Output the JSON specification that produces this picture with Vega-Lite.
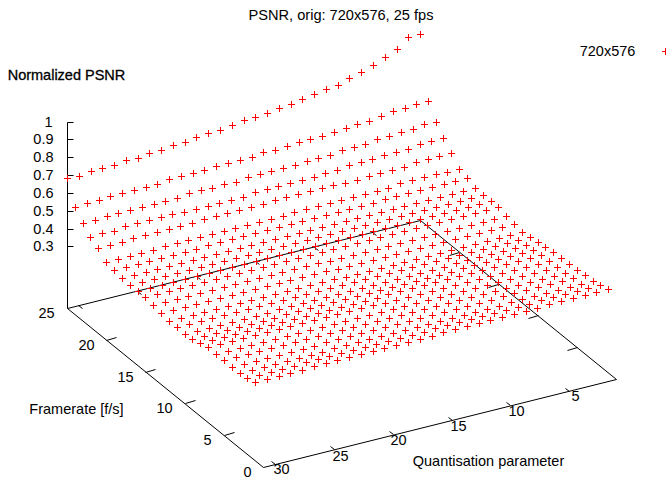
{"$schema":"https://vega.github.io/schema/vega-lite/v6.json","width":666,"height":479,"padding":0,"autosize":{"type":"none"},"background":"white","view":{"stroke":null},
"title":{"text":"PSNR, orig: 720x576, 25 fps","anchor":"middle","offset":-23,"dx":8,"font":"Liberation Sans","fontSize":14.6,"fontWeight":"normal","color":"black"},
"datasets":{
"lines":[{"part":"vertical","x":67,"y":122,"x2":67,"y2":308},{"part":"base","x":67,"y":308,"x2":263,"y2":467},{"part":"base","x":263,"y":467,"x2":616,"y2":379},{"part":"base","x":616,"y":379,"x2":420,"y2":220},{"part":"base","x":420,"y":220,"x2":67,"y2":308},
{"part":"ztick","x":67,"y":122,"x2":73,"y2":122},{"part":"ztick","x":67,"y":139,"x2":73,"y2":139},{"part":"ztick","x":67,"y":157,"x2":73,"y2":157},{"part":"ztick","x":67,"y":175,"x2":73,"y2":175},{"part":"ztick","x":67,"y":193,"x2":73,"y2":193},{"part":"ztick","x":67,"y":211,"x2":73,"y2":211},{"part":"ztick","x":67,"y":229,"x2":73,"y2":229},{"part":"ztick","x":67,"y":246,"x2":73,"y2":246},
{"part":"qtick","x":275,"y":464,"x2":271,"y2":461},{"part":"qtick","x":334,"y":449,"x2":330,"y2":446},{"part":"qtick","x":393,"y":434,"x2":389,"y2":431},{"part":"qtick","x":452,"y":420,"x2":448,"y2":417},{"part":"qtick","x":510,"y":405,"x2":506,"y2":402},{"part":"qtick","x":569,"y":391,"x2":565,"y2":388},
{"part":"qtick","x":78,"y":305,"x2":82,"y2":308},{"part":"qtick","x":137,"y":291,"x2":141,"y2":294},{"part":"qtick","x":196,"y":276,"x2":200,"y2":279},{"part":"qtick","x":255,"y":261,"x2":259,"y2":264},{"part":"qtick","x":314,"y":247,"x2":318,"y2":250},{"part":"qtick","x":372,"y":232,"x2":376,"y2":235},
{"part":"ftick","x":224,"y":435,"x2":234,"y2":432},{"part":"ftick","x":185,"y":403,"x2":195,"y2":400},{"part":"ftick","x":145,"y":372,"x2":155,"y2":369},{"part":"ftick","x":106,"y":340,"x2":116,"y2":337},
{"part":"ftick","x":577,"y":347,"x2":567,"y2":350},{"part":"ftick","x":538,"y":315,"x2":528,"y2":318},{"part":"ftick","x":498,"y":284,"x2":488,"y2":287},{"part":"ftick","x":459,"y":252,"x2":449,"y2":255}],
"zlabels":[{"label":"1","x":52,"y":122},{"label":"0.9","x":53,"y":139},{"label":"0.8","x":53,"y":157},{"label":"0.7","x":53,"y":175},{"label":"0.6","x":53,"y":193},{"label":"0.5","x":53,"y":211},{"label":"0.4","x":53,"y":229},{"label":"0.3","x":53,"y":246}],
"labels":[{"label":"30","x":281,"y":469},{"label":"25","x":340,"y":456},{"label":"20","x":398,"y":440},{"label":"15","x":458,"y":426},{"label":"10","x":516,"y":411},{"label":"5","x":575,"y":396},
{"label":"25","x":46,"y":313},{"label":"20","x":86,"y":345},{"label":"15","x":125,"y":377},{"label":"10","x":164,"y":408},{"label":"5","x":207,"y":440},{"label":"0","x":247,"y":472},
{"label":"Quantisation parameter","x":488,"y":461},{"label":"Framerate [f/s]","x":76,"y":409},{"label":"720x576","x":607,"y":51}],
"heading":[{"label":"Normalized PSNR","x":66,"y":75}],
"key":[{"series":"720x576","x":665,"y":51}],
"surface":[
{"q":31,"f":25,"x":67,"y":178},{"q":30,"f":25,"x":79,"y":176},{"q":29,"f":25,"x":91,"y":171},{"q":28,"f":25,"x":102,"y":168},{"q":27,"f":25,"x":114,"y":165},{"q":26,"f":25,"x":126,"y":160},{"q":25,"f":25,"x":138,"y":158},{"q":24,"f":25,"x":149,"y":153},{"q":23,"f":25,"x":161,"y":150},{"q":22,"f":25,"x":173,"y":145},{"q":21,"f":25,"x":185,"y":142},{"q":20,"f":25,"x":196,"y":137},{"q":19,"f":25,"x":208,"y":133},{"q":18,"f":25,"x":220,"y":130},{"q":17,"f":25,"x":232,"y":125},{"q":16,"f":25,"x":244,"y":120},{"q":15,"f":25,"x":255,"y":117},{"q":14,"f":25,"x":267,"y":113},{"q":13,"f":25,"x":279,"y":108},{"q":12,"f":25,"x":291,"y":104},{"q":11,"f":25,"x":302,"y":99},{"q":10,"f":25,"x":314,"y":94},{"q":9,"f":25,"x":326,"y":89},{"q":8,"f":25,"x":338,"y":85},{"q":7,"f":25,"x":349,"y":78},{"q":6,"f":25,"x":361,"y":72},{"q":5,"f":25,"x":373,"y":65},{"q":4,"f":25,"x":385,"y":57},{"q":3,"f":25,"x":397,"y":49},{"q":2,"f":25,"x":408,"y":37},{"q":1,"f":25,"x":420,"y":34},
{"q":31,"f":24,"x":75,"y":207},{"q":30,"f":24,"x":87,"y":203},{"q":29,"f":24,"x":99,"y":200},{"q":28,"f":24,"x":110,"y":196},{"q":27,"f":24,"x":122,"y":193},{"q":26,"f":24,"x":134,"y":190},{"q":25,"f":24,"x":146,"y":187},{"q":24,"f":24,"x":157,"y":184},{"q":23,"f":24,"x":169,"y":179},{"q":22,"f":24,"x":181,"y":176},{"q":21,"f":24,"x":193,"y":173},{"q":20,"f":24,"x":204,"y":170},{"q":19,"f":24,"x":216,"y":166},{"q":18,"f":24,"x":228,"y":163},{"q":17,"f":24,"x":240,"y":160},{"q":16,"f":24,"x":252,"y":157},{"q":15,"f":24,"x":263,"y":152},{"q":14,"f":24,"x":275,"y":150},{"q":13,"f":24,"x":287,"y":146},{"q":12,"f":24,"x":299,"y":142},{"q":11,"f":24,"x":310,"y":139},{"q":10,"f":24,"x":322,"y":136},{"q":9,"f":24,"x":334,"y":132},{"q":8,"f":24,"x":346,"y":128},{"q":7,"f":24,"x":357,"y":124},{"q":6,"f":24,"x":369,"y":121},{"q":5,"f":24,"x":381,"y":116},{"q":4,"f":24,"x":393,"y":111},{"q":3,"f":24,"x":405,"y":108},{"q":2,"f":24,"x":416,"y":104},{"q":1,"f":24,"x":428,"y":101},
{"q":31,"f":23,"x":83,"y":223},{"q":30,"f":23,"x":95,"y":220},{"q":29,"f":23,"x":107,"y":216},{"q":28,"f":23,"x":118,"y":213},{"q":27,"f":23,"x":130,"y":210},{"q":26,"f":23,"x":142,"y":207},{"q":25,"f":23,"x":154,"y":204},{"q":24,"f":23,"x":165,"y":201},{"q":23,"f":23,"x":177,"y":198},{"q":22,"f":23,"x":189,"y":193},{"q":21,"f":23,"x":201,"y":190},{"q":20,"f":23,"x":212,"y":188},{"q":19,"f":23,"x":224,"y":184},{"q":18,"f":23,"x":236,"y":182},{"q":17,"f":23,"x":248,"y":177},{"q":16,"f":23,"x":260,"y":174},{"q":15,"f":23,"x":271,"y":171},{"q":14,"f":23,"x":283,"y":168},{"q":13,"f":23,"x":295,"y":165},{"q":12,"f":23,"x":307,"y":161},{"q":11,"f":23,"x":318,"y":158},{"q":10,"f":23,"x":330,"y":155},{"q":9,"f":23,"x":342,"y":150},{"q":8,"f":23,"x":354,"y":147},{"q":7,"f":23,"x":365,"y":144},{"q":6,"f":23,"x":377,"y":139},{"q":5,"f":23,"x":389,"y":136},{"q":4,"f":23,"x":401,"y":132},{"q":3,"f":23,"x":413,"y":129},{"q":2,"f":23,"x":424,"y":124},{"q":1,"f":23,"x":436,"y":122},
{"q":31,"f":22,"x":90,"y":237},{"q":30,"f":22,"x":102,"y":233},{"q":29,"f":22,"x":114,"y":231},{"q":28,"f":22,"x":125,"y":226},{"q":27,"f":22,"x":137,"y":223},{"q":26,"f":22,"x":149,"y":220},{"q":25,"f":22,"x":161,"y":217},{"q":24,"f":22,"x":172,"y":214},{"q":23,"f":22,"x":184,"y":212},{"q":22,"f":22,"x":196,"y":209},{"q":21,"f":22,"x":208,"y":206},{"q":20,"f":22,"x":219,"y":203},{"q":19,"f":22,"x":231,"y":200},{"q":18,"f":22,"x":243,"y":197},{"q":17,"f":22,"x":255,"y":192},{"q":16,"f":22,"x":267,"y":189},{"q":15,"f":22,"x":278,"y":186},{"q":14,"f":22,"x":290,"y":183},{"q":13,"f":22,"x":302,"y":180},{"q":12,"f":22,"x":314,"y":177},{"q":11,"f":22,"x":325,"y":173},{"q":10,"f":22,"x":337,"y":170},{"q":9,"f":22,"x":349,"y":165},{"q":8,"f":22,"x":361,"y":162},{"q":7,"f":22,"x":372,"y":159},{"q":6,"f":22,"x":384,"y":155},{"q":5,"f":22,"x":396,"y":152},{"q":4,"f":22,"x":408,"y":149},{"q":3,"f":22,"x":420,"y":144},{"q":2,"f":22,"x":431,"y":141},{"q":1,"f":22,"x":443,"y":138},
{"q":31,"f":21,"x":98,"y":248},{"q":30,"f":21,"x":110,"y":245},{"q":29,"f":21,"x":122,"y":242},{"q":28,"f":21,"x":133,"y":238},{"q":27,"f":21,"x":145,"y":235},{"q":26,"f":21,"x":157,"y":232},{"q":25,"f":21,"x":169,"y":229},{"q":24,"f":21,"x":180,"y":226},{"q":23,"f":21,"x":192,"y":223},{"q":22,"f":21,"x":204,"y":219},{"q":21,"f":21,"x":216,"y":216},{"q":20,"f":21,"x":227,"y":213},{"q":19,"f":21,"x":239,"y":210},{"q":18,"f":21,"x":251,"y":207},{"q":17,"f":21,"x":263,"y":204},{"q":16,"f":21,"x":275,"y":200},{"q":15,"f":21,"x":286,"y":197},{"q":14,"f":21,"x":298,"y":194},{"q":13,"f":21,"x":310,"y":191},{"q":12,"f":21,"x":322,"y":188},{"q":11,"f":21,"x":333,"y":185},{"q":10,"f":21,"x":345,"y":183},{"q":9,"f":21,"x":357,"y":180},{"q":8,"f":21,"x":369,"y":176},{"q":7,"f":21,"x":380,"y":173},{"q":6,"f":21,"x":392,"y":170},{"q":5,"f":21,"x":404,"y":167},{"q":4,"f":21,"x":416,"y":162},{"q":3,"f":21,"x":428,"y":159},{"q":2,"f":21,"x":439,"y":156},{"q":1,"f":21,"x":451,"y":153},
{"q":31,"f":20,"x":106,"y":262},{"q":30,"f":20,"x":118,"y":259},{"q":29,"f":20,"x":130,"y":256},{"q":28,"f":20,"x":141,"y":253},{"q":27,"f":20,"x":153,"y":250},{"q":26,"f":20,"x":165,"y":246},{"q":25,"f":20,"x":177,"y":243},{"q":24,"f":20,"x":188,"y":240},{"q":23,"f":20,"x":200,"y":237},{"q":22,"f":20,"x":212,"y":234},{"q":21,"f":20,"x":224,"y":231},{"q":20,"f":20,"x":235,"y":228},{"q":19,"f":20,"x":247,"y":225},{"q":18,"f":20,"x":259,"y":222},{"q":17,"f":20,"x":271,"y":219},{"q":16,"f":20,"x":283,"y":216},{"q":15,"f":20,"x":294,"y":212},{"q":14,"f":20,"x":306,"y":209},{"q":13,"f":20,"x":318,"y":206},{"q":12,"f":20,"x":330,"y":203},{"q":11,"f":20,"x":341,"y":200},{"q":10,"f":20,"x":353,"y":197},{"q":9,"f":20,"x":365,"y":194},{"q":8,"f":20,"x":377,"y":191},{"q":7,"f":20,"x":388,"y":188},{"q":6,"f":20,"x":400,"y":183},{"q":5,"f":20,"x":412,"y":180},{"q":4,"f":20,"x":424,"y":177},{"q":3,"f":20,"x":436,"y":174},{"q":2,"f":20,"x":447,"y":172},{"q":1,"f":20,"x":459,"y":169},
{"q":31,"f":19,"x":114,"y":270},{"q":30,"f":19,"x":126,"y":267},{"q":29,"f":19,"x":138,"y":264},{"q":28,"f":19,"x":149,"y":261},{"q":27,"f":19,"x":161,"y":258},{"q":26,"f":19,"x":173,"y":255},{"q":25,"f":19,"x":185,"y":252},{"q":24,"f":19,"x":196,"y":249},{"q":23,"f":19,"x":208,"y":245},{"q":22,"f":19,"x":220,"y":242},{"q":21,"f":19,"x":232,"y":239},{"q":20,"f":19,"x":243,"y":236},{"q":19,"f":19,"x":255,"y":233},{"q":18,"f":19,"x":267,"y":230},{"q":17,"f":19,"x":279,"y":227},{"q":16,"f":19,"x":291,"y":224},{"q":15,"f":19,"x":302,"y":221},{"q":14,"f":19,"x":314,"y":218},{"q":13,"f":19,"x":326,"y":215},{"q":12,"f":19,"x":338,"y":212},{"q":11,"f":19,"x":349,"y":209},{"q":10,"f":19,"x":361,"y":206},{"q":9,"f":19,"x":373,"y":203},{"q":8,"f":19,"x":385,"y":199},{"q":7,"f":19,"x":396,"y":196},{"q":6,"f":19,"x":408,"y":193},{"q":5,"f":19,"x":420,"y":190},{"q":4,"f":19,"x":432,"y":187},{"q":3,"f":19,"x":444,"y":184},{"q":2,"f":19,"x":455,"y":181},{"q":1,"f":19,"x":467,"y":178},
{"q":31,"f":18,"x":122,"y":278},{"q":30,"f":18,"x":134,"y":275},{"q":29,"f":18,"x":146,"y":272},{"q":28,"f":18,"x":157,"y":269},{"q":27,"f":18,"x":169,"y":266},{"q":26,"f":18,"x":181,"y":263},{"q":25,"f":18,"x":193,"y":260},{"q":24,"f":18,"x":204,"y":257},{"q":23,"f":18,"x":216,"y":254},{"q":22,"f":18,"x":228,"y":251},{"q":21,"f":18,"x":240,"y":248},{"q":20,"f":18,"x":251,"y":245},{"q":19,"f":18,"x":263,"y":242},{"q":18,"f":18,"x":275,"y":239},{"q":17,"f":18,"x":287,"y":236},{"q":16,"f":18,"x":299,"y":233},{"q":15,"f":18,"x":310,"y":230},{"q":14,"f":18,"x":322,"y":227},{"q":13,"f":18,"x":334,"y":224},{"q":12,"f":18,"x":346,"y":221},{"q":11,"f":18,"x":357,"y":218},{"q":10,"f":18,"x":369,"y":215},{"q":9,"f":18,"x":381,"y":212},{"q":8,"f":18,"x":393,"y":209},{"q":7,"f":18,"x":404,"y":206},{"q":6,"f":18,"x":416,"y":203},{"q":5,"f":18,"x":428,"y":200},{"q":4,"f":18,"x":440,"y":197},{"q":3,"f":18,"x":452,"y":194},{"q":2,"f":18,"x":463,"y":191},{"q":1,"f":18,"x":475,"y":188},
{"q":31,"f":17,"x":130,"y":285},{"q":30,"f":17,"x":142,"y":282},{"q":29,"f":17,"x":154,"y":279},{"q":28,"f":17,"x":165,"y":276},{"q":27,"f":17,"x":177,"y":273},{"q":26,"f":17,"x":189,"y":270},{"q":25,"f":17,"x":201,"y":267},{"q":24,"f":17,"x":212,"y":264},{"q":23,"f":17,"x":224,"y":261},{"q":22,"f":17,"x":236,"y":258},{"q":21,"f":17,"x":248,"y":255},{"q":20,"f":17,"x":259,"y":252},{"q":19,"f":17,"x":271,"y":249},{"q":18,"f":17,"x":283,"y":246},{"q":17,"f":17,"x":295,"y":243},{"q":16,"f":17,"x":307,"y":240},{"q":15,"f":17,"x":318,"y":237},{"q":14,"f":17,"x":330,"y":234},{"q":13,"f":17,"x":342,"y":231},{"q":12,"f":17,"x":354,"y":228},{"q":11,"f":17,"x":365,"y":225},{"q":10,"f":17,"x":377,"y":222},{"q":9,"f":17,"x":389,"y":219},{"q":8,"f":17,"x":401,"y":216},{"q":7,"f":17,"x":412,"y":213},{"q":6,"f":17,"x":424,"y":210},{"q":5,"f":17,"x":436,"y":207},{"q":4,"f":17,"x":448,"y":204},{"q":3,"f":17,"x":460,"y":201},{"q":2,"f":17,"x":471,"y":198},{"q":1,"f":17,"x":483,"y":195},
{"q":31,"f":16,"x":138,"y":291},{"q":30,"f":16,"x":150,"y":288},{"q":29,"f":16,"x":162,"y":285},{"q":28,"f":16,"x":173,"y":282},{"q":27,"f":16,"x":185,"y":279},{"q":26,"f":16,"x":197,"y":276},{"q":25,"f":16,"x":209,"y":273},{"q":24,"f":16,"x":220,"y":270},{"q":23,"f":16,"x":232,"y":267},{"q":22,"f":16,"x":244,"y":264},{"q":21,"f":16,"x":256,"y":261},{"q":20,"f":16,"x":267,"y":258},{"q":19,"f":16,"x":279,"y":255},{"q":18,"f":16,"x":291,"y":252},{"q":17,"f":16,"x":303,"y":249},{"q":16,"f":16,"x":315,"y":246},{"q":15,"f":16,"x":326,"y":243},{"q":14,"f":16,"x":338,"y":240},{"q":13,"f":16,"x":350,"y":237},{"q":12,"f":16,"x":362,"y":234},{"q":11,"f":16,"x":373,"y":231},{"q":10,"f":16,"x":385,"y":228},{"q":9,"f":16,"x":397,"y":225},{"q":8,"f":16,"x":409,"y":222},{"q":7,"f":16,"x":420,"y":219},{"q":6,"f":16,"x":432,"y":216},{"q":5,"f":16,"x":444,"y":213},{"q":4,"f":16,"x":456,"y":210},{"q":3,"f":16,"x":468,"y":207},{"q":2,"f":16,"x":479,"y":204},{"q":1,"f":16,"x":491,"y":201},
{"q":31,"f":15,"x":145,"y":297},{"q":30,"f":15,"x":157,"y":294},{"q":29,"f":15,"x":169,"y":291},{"q":28,"f":15,"x":180,"y":288},{"q":27,"f":15,"x":192,"y":285},{"q":26,"f":15,"x":204,"y":282},{"q":25,"f":15,"x":216,"y":279},{"q":24,"f":15,"x":227,"y":276},{"q":23,"f":15,"x":239,"y":273},{"q":22,"f":15,"x":251,"y":270},{"q":21,"f":15,"x":263,"y":267},{"q":20,"f":15,"x":274,"y":264},{"q":19,"f":15,"x":286,"y":261},{"q":18,"f":15,"x":298,"y":258},{"q":17,"f":15,"x":310,"y":255},{"q":16,"f":15,"x":322,"y":252},{"q":15,"f":15,"x":333,"y":249},{"q":14,"f":15,"x":345,"y":246},{"q":13,"f":15,"x":357,"y":243},{"q":12,"f":15,"x":369,"y":240},{"q":11,"f":15,"x":380,"y":237},{"q":10,"f":15,"x":392,"y":234},{"q":9,"f":15,"x":404,"y":231},{"q":8,"f":15,"x":416,"y":228},{"q":7,"f":15,"x":427,"y":225},{"q":6,"f":15,"x":439,"y":222},{"q":5,"f":15,"x":451,"y":219},{"q":4,"f":15,"x":463,"y":216},{"q":3,"f":15,"x":475,"y":213},{"q":2,"f":15,"x":486,"y":210},{"q":1,"f":15,"x":498,"y":207},
{"q":31,"f":14,"x":153,"y":305},{"q":30,"f":14,"x":165,"y":302},{"q":29,"f":14,"x":177,"y":299},{"q":28,"f":14,"x":188,"y":296},{"q":27,"f":14,"x":200,"y":293},{"q":26,"f":14,"x":212,"y":290},{"q":25,"f":14,"x":224,"y":287},{"q":24,"f":14,"x":235,"y":284},{"q":23,"f":14,"x":247,"y":281},{"q":22,"f":14,"x":259,"y":278},{"q":21,"f":14,"x":271,"y":275},{"q":20,"f":14,"x":282,"y":272},{"q":19,"f":14,"x":294,"y":269},{"q":18,"f":14,"x":306,"y":266},{"q":17,"f":14,"x":318,"y":263},{"q":16,"f":14,"x":330,"y":261},{"q":15,"f":14,"x":341,"y":258},{"q":14,"f":14,"x":353,"y":255},{"q":13,"f":14,"x":365,"y":252},{"q":12,"f":14,"x":377,"y":249},{"q":11,"f":14,"x":388,"y":246},{"q":10,"f":14,"x":400,"y":243},{"q":9,"f":14,"x":412,"y":240},{"q":8,"f":14,"x":424,"y":237},{"q":7,"f":14,"x":435,"y":234},{"q":6,"f":14,"x":447,"y":231},{"q":5,"f":14,"x":459,"y":228},{"q":4,"f":14,"x":471,"y":225},{"q":3,"f":14,"x":483,"y":222},{"q":2,"f":14,"x":494,"y":219},{"q":1,"f":14,"x":506,"y":216},
{"q":31,"f":13,"x":161,"y":313},{"q":30,"f":13,"x":173,"y":310},{"q":29,"f":13,"x":185,"y":307},{"q":28,"f":13,"x":196,"y":304},{"q":27,"f":13,"x":208,"y":301},{"q":26,"f":13,"x":220,"y":298},{"q":25,"f":13,"x":232,"y":295},{"q":24,"f":13,"x":243,"y":292},{"q":23,"f":13,"x":255,"y":289},{"q":22,"f":13,"x":267,"y":286},{"q":21,"f":13,"x":279,"y":283},{"q":20,"f":13,"x":290,"y":280},{"q":19,"f":13,"x":302,"y":277},{"q":18,"f":13,"x":314,"y":274},{"q":17,"f":13,"x":326,"y":271},{"q":16,"f":13,"x":338,"y":269},{"q":15,"f":13,"x":349,"y":266},{"q":14,"f":13,"x":361,"y":263},{"q":13,"f":13,"x":373,"y":260},{"q":12,"f":13,"x":385,"y":257},{"q":11,"f":13,"x":396,"y":254},{"q":10,"f":13,"x":408,"y":251},{"q":9,"f":13,"x":420,"y":248},{"q":8,"f":13,"x":432,"y":245},{"q":7,"f":13,"x":443,"y":242},{"q":6,"f":13,"x":455,"y":239},{"q":5,"f":13,"x":467,"y":236},{"q":4,"f":13,"x":479,"y":233},{"q":3,"f":13,"x":491,"y":230},{"q":2,"f":13,"x":502,"y":227},{"q":1,"f":13,"x":514,"y":224},
{"q":31,"f":12,"x":169,"y":321},{"q":30,"f":12,"x":181,"y":318},{"q":29,"f":12,"x":193,"y":315},{"q":28,"f":12,"x":204,"y":312},{"q":27,"f":12,"x":216,"y":309},{"q":26,"f":12,"x":228,"y":306},{"q":25,"f":12,"x":240,"y":303},{"q":24,"f":12,"x":251,"y":300},{"q":23,"f":12,"x":263,"y":297},{"q":22,"f":12,"x":275,"y":294},{"q":21,"f":12,"x":287,"y":291},{"q":20,"f":12,"x":298,"y":288},{"q":19,"f":12,"x":310,"y":285},{"q":18,"f":12,"x":322,"y":282},{"q":17,"f":12,"x":334,"y":279},{"q":16,"f":12,"x":346,"y":277},{"q":15,"f":12,"x":357,"y":274},{"q":14,"f":12,"x":369,"y":271},{"q":13,"f":12,"x":381,"y":268},{"q":12,"f":12,"x":393,"y":265},{"q":11,"f":12,"x":404,"y":262},{"q":10,"f":12,"x":416,"y":259},{"q":9,"f":12,"x":428,"y":256},{"q":8,"f":12,"x":440,"y":253},{"q":7,"f":12,"x":451,"y":250},{"q":6,"f":12,"x":463,"y":247},{"q":5,"f":12,"x":475,"y":244},{"q":4,"f":12,"x":487,"y":241},{"q":3,"f":12,"x":499,"y":238},{"q":2,"f":12,"x":510,"y":235},{"q":1,"f":12,"x":522,"y":232},
{"q":31,"f":11,"x":177,"y":327},{"q":30,"f":11,"x":189,"y":324},{"q":29,"f":11,"x":201,"y":321},{"q":28,"f":11,"x":212,"y":318},{"q":27,"f":11,"x":224,"y":315},{"q":26,"f":11,"x":236,"y":312},{"q":25,"f":11,"x":248,"y":309},{"q":24,"f":11,"x":259,"y":306},{"q":23,"f":11,"x":271,"y":303},{"q":22,"f":11,"x":283,"y":300},{"q":21,"f":11,"x":295,"y":297},{"q":20,"f":11,"x":306,"y":294},{"q":19,"f":11,"x":318,"y":291},{"q":18,"f":11,"x":330,"y":288},{"q":17,"f":11,"x":342,"y":285},{"q":16,"f":11,"x":354,"y":282},{"q":15,"f":11,"x":365,"y":279},{"q":14,"f":11,"x":377,"y":276},{"q":13,"f":11,"x":389,"y":273},{"q":12,"f":11,"x":401,"y":270},{"q":11,"f":11,"x":412,"y":267},{"q":10,"f":11,"x":424,"y":264},{"q":9,"f":11,"x":436,"y":261},{"q":8,"f":11,"x":448,"y":258},{"q":7,"f":11,"x":459,"y":255},{"q":6,"f":11,"x":471,"y":252},{"q":5,"f":11,"x":483,"y":249},{"q":4,"f":11,"x":495,"y":246},{"q":3,"f":11,"x":507,"y":243},{"q":2,"f":11,"x":518,"y":240},{"q":1,"f":11,"x":530,"y":237},
{"q":31,"f":10,"x":185,"y":334},{"q":30,"f":10,"x":197,"y":331},{"q":29,"f":10,"x":209,"y":328},{"q":28,"f":10,"x":220,"y":325},{"q":27,"f":10,"x":232,"y":322},{"q":26,"f":10,"x":244,"y":319},{"q":25,"f":10,"x":256,"y":316},{"q":24,"f":10,"x":267,"y":313},{"q":23,"f":10,"x":279,"y":309},{"q":22,"f":10,"x":291,"y":306},{"q":21,"f":10,"x":303,"y":303},{"q":20,"f":10,"x":314,"y":300},{"q":19,"f":10,"x":326,"y":297},{"q":18,"f":10,"x":338,"y":294},{"q":17,"f":10,"x":350,"y":291},{"q":16,"f":10,"x":362,"y":288},{"q":15,"f":10,"x":373,"y":285},{"q":14,"f":10,"x":385,"y":282},{"q":13,"f":10,"x":397,"y":279},{"q":12,"f":10,"x":409,"y":276},{"q":11,"f":10,"x":420,"y":273},{"q":10,"f":10,"x":432,"y":270},{"q":9,"f":10,"x":444,"y":267},{"q":8,"f":10,"x":456,"y":263},{"q":7,"f":10,"x":467,"y":260},{"q":6,"f":10,"x":479,"y":257},{"q":5,"f":10,"x":491,"y":254},{"q":4,"f":10,"x":503,"y":251},{"q":3,"f":10,"x":515,"y":248},{"q":2,"f":10,"x":526,"y":245},{"q":1,"f":10,"x":538,"y":242},
{"q":31,"f":9,"x":192,"y":339},{"q":30,"f":9,"x":204,"y":336},{"q":29,"f":9,"x":216,"y":333},{"q":28,"f":9,"x":227,"y":330},{"q":27,"f":9,"x":239,"y":327},{"q":26,"f":9,"x":251,"y":324},{"q":25,"f":9,"x":263,"y":321},{"q":24,"f":9,"x":274,"y":318},{"q":23,"f":9,"x":286,"y":314},{"q":22,"f":9,"x":298,"y":311},{"q":21,"f":9,"x":310,"y":308},{"q":20,"f":9,"x":321,"y":305},{"q":19,"f":9,"x":333,"y":302},{"q":18,"f":9,"x":345,"y":299},{"q":17,"f":9,"x":357,"y":296},{"q":16,"f":9,"x":369,"y":293},{"q":15,"f":9,"x":380,"y":290},{"q":14,"f":9,"x":392,"y":287},{"q":13,"f":9,"x":404,"y":284},{"q":12,"f":9,"x":416,"y":281},{"q":11,"f":9,"x":427,"y":278},{"q":10,"f":9,"x":439,"y":275},{"q":9,"f":9,"x":451,"y":272},{"q":8,"f":9,"x":463,"y":268},{"q":7,"f":9,"x":474,"y":265},{"q":6,"f":9,"x":486,"y":262},{"q":5,"f":9,"x":498,"y":259},{"q":4,"f":9,"x":510,"y":256},{"q":3,"f":9,"x":522,"y":253},{"q":2,"f":9,"x":533,"y":250},{"q":1,"f":9,"x":545,"y":247},
{"q":31,"f":8,"x":200,"y":343},{"q":30,"f":8,"x":212,"y":340},{"q":29,"f":8,"x":224,"y":337},{"q":28,"f":8,"x":235,"y":334},{"q":27,"f":8,"x":247,"y":331},{"q":26,"f":8,"x":259,"y":328},{"q":25,"f":8,"x":271,"y":325},{"q":24,"f":8,"x":282,"y":322},{"q":23,"f":8,"x":294,"y":319},{"q":22,"f":8,"x":306,"y":316},{"q":21,"f":8,"x":318,"y":313},{"q":20,"f":8,"x":329,"y":310},{"q":19,"f":8,"x":341,"y":307},{"q":18,"f":8,"x":353,"y":304},{"q":17,"f":8,"x":365,"y":301},{"q":16,"f":8,"x":377,"y":298},{"q":15,"f":8,"x":388,"y":294},{"q":14,"f":8,"x":400,"y":291},{"q":13,"f":8,"x":412,"y":288},{"q":12,"f":8,"x":424,"y":285},{"q":11,"f":8,"x":435,"y":282},{"q":10,"f":8,"x":447,"y":279},{"q":9,"f":8,"x":459,"y":276},{"q":8,"f":8,"x":471,"y":273},{"q":7,"f":8,"x":482,"y":270},{"q":6,"f":8,"x":494,"y":267},{"q":5,"f":8,"x":506,"y":264},{"q":4,"f":8,"x":518,"y":261},{"q":3,"f":8,"x":530,"y":258},{"q":2,"f":8,"x":541,"y":255},{"q":1,"f":8,"x":553,"y":252},
{"q":31,"f":7,"x":208,"y":347},{"q":30,"f":7,"x":220,"y":344},{"q":29,"f":7,"x":232,"y":341},{"q":28,"f":7,"x":243,"y":338},{"q":27,"f":7,"x":255,"y":335},{"q":26,"f":7,"x":267,"y":332},{"q":25,"f":7,"x":279,"y":329},{"q":24,"f":7,"x":290,"y":326},{"q":23,"f":7,"x":302,"y":323},{"q":22,"f":7,"x":314,"y":320},{"q":21,"f":7,"x":326,"y":317},{"q":20,"f":7,"x":337,"y":314},{"q":19,"f":7,"x":349,"y":311},{"q":18,"f":7,"x":361,"y":308},{"q":17,"f":7,"x":373,"y":305},{"q":16,"f":7,"x":385,"y":303},{"q":15,"f":7,"x":396,"y":300},{"q":14,"f":7,"x":408,"y":297},{"q":13,"f":7,"x":420,"y":294},{"q":12,"f":7,"x":432,"y":291},{"q":11,"f":7,"x":443,"y":288},{"q":10,"f":7,"x":455,"y":285},{"q":9,"f":7,"x":467,"y":282},{"q":8,"f":7,"x":479,"y":279},{"q":7,"f":7,"x":490,"y":276},{"q":6,"f":7,"x":502,"y":273},{"q":5,"f":7,"x":514,"y":270},{"q":4,"f":7,"x":526,"y":267},{"q":3,"f":7,"x":538,"y":264},{"q":2,"f":7,"x":549,"y":261},{"q":1,"f":7,"x":561,"y":258},
{"q":31,"f":6,"x":216,"y":354},{"q":30,"f":6,"x":228,"y":351},{"q":29,"f":6,"x":240,"y":348},{"q":28,"f":6,"x":251,"y":345},{"q":27,"f":6,"x":263,"y":342},{"q":26,"f":6,"x":275,"y":339},{"q":25,"f":6,"x":287,"y":336},{"q":24,"f":6,"x":298,"y":333},{"q":23,"f":6,"x":310,"y":330},{"q":22,"f":6,"x":322,"y":327},{"q":21,"f":6,"x":334,"y":324},{"q":20,"f":6,"x":345,"y":321},{"q":19,"f":6,"x":357,"y":318},{"q":18,"f":6,"x":369,"y":315},{"q":17,"f":6,"x":381,"y":312},{"q":16,"f":6,"x":393,"y":309},{"q":15,"f":6,"x":404,"y":306},{"q":14,"f":6,"x":416,"y":303},{"q":13,"f":6,"x":428,"y":300},{"q":12,"f":6,"x":440,"y":297},{"q":11,"f":6,"x":451,"y":294},{"q":10,"f":6,"x":463,"y":291},{"q":9,"f":6,"x":475,"y":288},{"q":8,"f":6,"x":487,"y":285},{"q":7,"f":6,"x":498,"y":282},{"q":6,"f":6,"x":510,"y":279},{"q":5,"f":6,"x":522,"y":276},{"q":4,"f":6,"x":534,"y":273},{"q":3,"f":6,"x":546,"y":270},{"q":2,"f":6,"x":557,"y":267},{"q":1,"f":6,"x":569,"y":264},
{"q":31,"f":5,"x":224,"y":360},{"q":30,"f":5,"x":236,"y":357},{"q":29,"f":5,"x":248,"y":354},{"q":28,"f":5,"x":259,"y":351},{"q":27,"f":5,"x":271,"y":348},{"q":26,"f":5,"x":283,"y":345},{"q":25,"f":5,"x":295,"y":342},{"q":24,"f":5,"x":306,"y":339},{"q":23,"f":5,"x":318,"y":336},{"q":22,"f":5,"x":330,"y":333},{"q":21,"f":5,"x":342,"y":330},{"q":20,"f":5,"x":353,"y":327},{"q":19,"f":5,"x":365,"y":324},{"q":18,"f":5,"x":377,"y":321},{"q":17,"f":5,"x":389,"y":318},{"q":16,"f":5,"x":401,"y":315},{"q":15,"f":5,"x":412,"y":312},{"q":14,"f":5,"x":424,"y":309},{"q":13,"f":5,"x":436,"y":306},{"q":12,"f":5,"x":448,"y":303},{"q":11,"f":5,"x":459,"y":300},{"q":10,"f":5,"x":471,"y":297},{"q":9,"f":5,"x":483,"y":294},{"q":8,"f":5,"x":495,"y":291},{"q":7,"f":5,"x":506,"y":288},{"q":6,"f":5,"x":518,"y":285},{"q":5,"f":5,"x":530,"y":282},{"q":4,"f":5,"x":542,"y":279},{"q":3,"f":5,"x":554,"y":276},{"q":2,"f":5,"x":565,"y":273},{"q":1,"f":5,"x":577,"y":270},
{"q":31,"f":4,"x":232,"y":367},{"q":30,"f":4,"x":244,"y":364},{"q":29,"f":4,"x":256,"y":361},{"q":28,"f":4,"x":267,"y":358},{"q":27,"f":4,"x":279,"y":355},{"q":26,"f":4,"x":291,"y":352},{"q":25,"f":4,"x":303,"y":349},{"q":24,"f":4,"x":314,"y":346},{"q":23,"f":4,"x":326,"y":342},{"q":22,"f":4,"x":338,"y":339},{"q":21,"f":4,"x":350,"y":336},{"q":20,"f":4,"x":361,"y":333},{"q":19,"f":4,"x":373,"y":330},{"q":18,"f":4,"x":385,"y":327},{"q":17,"f":4,"x":397,"y":324},{"q":16,"f":4,"x":409,"y":321},{"q":15,"f":4,"x":420,"y":318},{"q":14,"f":4,"x":432,"y":315},{"q":13,"f":4,"x":444,"y":312},{"q":12,"f":4,"x":456,"y":309},{"q":11,"f":4,"x":467,"y":306},{"q":10,"f":4,"x":479,"y":303},{"q":9,"f":4,"x":491,"y":300},{"q":8,"f":4,"x":503,"y":296},{"q":7,"f":4,"x":514,"y":293},{"q":6,"f":4,"x":526,"y":290},{"q":5,"f":4,"x":538,"y":287},{"q":4,"f":4,"x":550,"y":284},{"q":3,"f":4,"x":562,"y":281},{"q":2,"f":4,"x":573,"y":278},{"q":1,"f":4,"x":585,"y":275},
{"q":31,"f":3,"x":240,"y":373},{"q":30,"f":3,"x":252,"y":370},{"q":29,"f":3,"x":264,"y":367},{"q":28,"f":3,"x":275,"y":364},{"q":27,"f":3,"x":287,"y":361},{"q":26,"f":3,"x":299,"y":358},{"q":25,"f":3,"x":311,"y":355},{"q":24,"f":3,"x":322,"y":352},{"q":23,"f":3,"x":334,"y":348},{"q":22,"f":3,"x":346,"y":345},{"q":21,"f":3,"x":358,"y":342},{"q":20,"f":3,"x":369,"y":339},{"q":19,"f":3,"x":381,"y":336},{"q":18,"f":3,"x":393,"y":333},{"q":17,"f":3,"x":405,"y":330},{"q":16,"f":3,"x":417,"y":327},{"q":15,"f":3,"x":428,"y":324},{"q":14,"f":3,"x":440,"y":321},{"q":13,"f":3,"x":452,"y":318},{"q":12,"f":3,"x":464,"y":315},{"q":11,"f":3,"x":475,"y":312},{"q":10,"f":3,"x":487,"y":309},{"q":9,"f":3,"x":499,"y":306},{"q":8,"f":3,"x":511,"y":302},{"q":7,"f":3,"x":522,"y":299},{"q":6,"f":3,"x":534,"y":296},{"q":5,"f":3,"x":546,"y":293},{"q":4,"f":3,"x":558,"y":290},{"q":3,"f":3,"x":570,"y":287},{"q":2,"f":3,"x":581,"y":284},{"q":1,"f":3,"x":593,"y":281},
{"q":31,"f":2,"x":247,"y":378},{"q":30,"f":2,"x":259,"y":375},{"q":29,"f":2,"x":271,"y":372},{"q":28,"f":2,"x":282,"y":369},{"q":27,"f":2,"x":294,"y":366},{"q":26,"f":2,"x":306,"y":362},{"q":25,"f":2,"x":318,"y":359},{"q":24,"f":2,"x":329,"y":356},{"q":23,"f":2,"x":341,"y":353},{"q":22,"f":2,"x":353,"y":350},{"q":21,"f":2,"x":365,"y":347},{"q":20,"f":2,"x":376,"y":344},{"q":19,"f":2,"x":388,"y":341},{"q":18,"f":2,"x":400,"y":338},{"q":17,"f":2,"x":412,"y":335},{"q":16,"f":2,"x":424,"y":332},{"q":15,"f":2,"x":435,"y":328},{"q":14,"f":2,"x":447,"y":325},{"q":13,"f":2,"x":459,"y":322},{"q":12,"f":2,"x":471,"y":319},{"q":11,"f":2,"x":482,"y":316},{"q":10,"f":2,"x":494,"y":313},{"q":9,"f":2,"x":506,"y":310},{"q":8,"f":2,"x":518,"y":307},{"q":7,"f":2,"x":529,"y":304},{"q":6,"f":2,"x":541,"y":300},{"q":5,"f":2,"x":553,"y":297},{"q":4,"f":2,"x":565,"y":294},{"q":3,"f":2,"x":577,"y":291},{"q":2,"f":2,"x":588,"y":288},{"q":1,"f":2,"x":600,"y":285},
{"q":31,"f":1,"x":255,"y":382},{"q":30,"f":1,"x":267,"y":379},{"q":29,"f":1,"x":279,"y":376},{"q":28,"f":1,"x":290,"y":373},{"q":27,"f":1,"x":302,"y":370},{"q":26,"f":1,"x":314,"y":366},{"q":25,"f":1,"x":326,"y":363},{"q":24,"f":1,"x":337,"y":360},{"q":23,"f":1,"x":349,"y":357},{"q":22,"f":1,"x":361,"y":354},{"q":21,"f":1,"x":373,"y":351},{"q":20,"f":1,"x":384,"y":348},{"q":19,"f":1,"x":396,"y":345},{"q":18,"f":1,"x":408,"y":342},{"q":17,"f":1,"x":420,"y":339},{"q":16,"f":1,"x":432,"y":336},{"q":15,"f":1,"x":443,"y":332},{"q":14,"f":1,"x":455,"y":329},{"q":13,"f":1,"x":467,"y":326},{"q":12,"f":1,"x":479,"y":323},{"q":11,"f":1,"x":490,"y":320},{"q":10,"f":1,"x":502,"y":317},{"q":9,"f":1,"x":514,"y":314},{"q":8,"f":1,"x":526,"y":311},{"q":7,"f":1,"x":537,"y":308},{"q":6,"f":1,"x":549,"y":304},{"q":5,"f":1,"x":561,"y":301},{"q":4,"f":1,"x":573,"y":298},{"q":3,"f":1,"x":585,"y":295},{"q":2,"f":1,"x":596,"y":292},{"q":1,"f":1,"x":608,"y":289}
]},
"encoding":{"x":{"field":"x","type":"quantitative","scale":{"domain":[-0.5,665.5],"nice":false,"zero":false},"axis":null},"y":{"field":"y","type":"quantitative","scale":{"domain":[478.5,-0.5],"nice":false,"zero":false},"axis":null}},
"layer":[
{"data":{"name":"lines"},"mark":{"type":"rule","color":"black","strokeWidth":1},"encoding":{"x2":{"field":"x2"},"y2":{"field":"y2"}}},
{"data":{"name":"surface"},"mark":{"type":"point","shape":"M-1,0H1M0,-1V1","size":49,"filled":false,"stroke":"#ff0000","strokeWidth":1,"opacity":1,"clip":false}},
{"data":{"name":"key"},"mark":{"type":"point","shape":"M-1,0H1M0,-1V1","size":49,"filled":false,"stroke":"#ff0000","strokeWidth":1,"opacity":1}},
{"data":{"name":"zlabels"},"mark":{"type":"text","align":"right","baseline":"middle","font":"Liberation Sans","fontSize":14.5,"color":"black"},"encoding":{"text":{"field":"label"}}},
{"data":{"name":"labels"},"mark":{"type":"text","align":"center","baseline":"middle","font":"Liberation Sans","fontSize":14.5,"color":"black"},"encoding":{"text":{"field":"label"}}},
{"data":{"name":"heading"},"mark":{"type":"text","align":"center","baseline":"middle","font":"Liberation Sans","fontSize":14.5,"color":"black","stroke":"black","strokeWidth":0.3},"encoding":{"text":{"field":"label"}}}
]}
